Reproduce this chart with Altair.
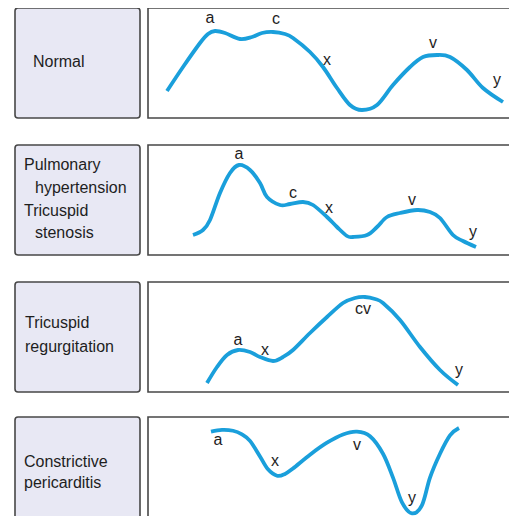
import altair as alt
import pandas as pd

# ---- waveform data (time, pressure in arbitrary units) ----
normal_t = [19, 35, 52, 60, 67, 77, 92, 104, 114, 125, 137, 145, 162, 175, 189, 202, 214, 229, 245, 262, 275, 289, 302, 319, 335, 355]
normal_p = [27, 51, 75, 84, 87, 85, 79, 81, 85, 86, 84, 80, 66, 51, 30, 13, 8, 13, 33, 51, 61, 63, 61, 48, 30, 16]
normal_lab = ["a", "c", "x", "v", "y"]
normal_lab_t = [62, 128, 179, 285, 349]
normal_lab_p = [100, 99, 58, 75, 38]

pht_t = [45, 55, 62, 72, 82, 91, 102, 112, 119, 132, 142, 155, 165, 179, 189, 199, 205, 219, 229, 239, 252, 269, 282, 292, 305, 315, 328]
pht_p = [20, 25, 35, 62, 82, 90, 85, 72, 58, 50, 51, 53, 50, 38, 28, 19, 18, 20, 28, 38, 42, 45, 43, 37, 20, 14, 8]
pht_lab = ["a", "c", "x", "v", "y"]
pht_lab_t = [91, 145, 181, 264, 325]
pht_lab_p = [101, 62, 47, 55, 23]

tr_t = [59, 69, 79, 90, 102, 112, 125, 135, 145, 162, 179, 195, 207, 217, 227, 235, 252, 272, 292, 310]
tr_p = [9, 25, 37, 42, 40, 35, 31, 35, 42, 59, 75, 89, 94, 95, 93, 89, 72, 45, 22, 7]
tr_lab = ["a", "x", "cv", "y"]
tr_lab_t = [90, 117, 215, 311]
tr_lab_p = [52, 42, 83, 22]

cp_t = [63, 74, 85, 94, 102, 112, 120, 129, 137, 145, 162, 179, 195, 209, 222, 235, 245, 254, 264, 274, 282, 292, 302, 311]
cp_p = [94, 96, 95, 91, 84, 67, 53, 46, 48, 54, 69, 82, 91, 94, 89, 70, 44, 17, 5, 14, 44, 70, 90, 98]
cp_lab = ["a", "x", "v", "y"]
cp_lab_t = [70, 127, 209, 264]
cp_lab_p = [85, 62, 80, 22]

BLUE = "#1a9fdb"
BORDER = "#474747"
LABEL_FILL = "#e8e8f4"
TEXT = "#1e1e1e"
FONT = "Liberation Sans"

ROW_TOPS = [0, 137, 274, 409]
ROW_H = 110


def wave(t, p, lt, lp, labels, top, bottom):
    xs = alt.Scale(domain=[0, 370], range=[140, 510], zero=False, nice=False)
    ys = alt.Scale(domain=[0, 110], range=[bottom, top], zero=False, nice=False)
    line = alt.Chart(pd.DataFrame({"t": t, "p": p})).mark_line(
        interpolate="cardinal", color=BLUE, strokeWidth=3.8, strokeCap="butt"
    ).encode(
        x=alt.X("t:Q", scale=xs, axis=None),
        y=alt.Y("p:Q", scale=ys, axis=None),
    )
    txt = alt.Chart(pd.DataFrame({"t": lt, "p": lp, "lab": labels})).mark_text(
        font=FONT, fontSize=16, color=TEXT, align="center", baseline="middle"
    ).encode(
        x=alt.X("t:Q", scale=xs, axis=None),
        y=alt.Y("p:Q", scale=ys, axis=None),
        text="lab:N",
    )
    return alt.layer(line, txt)


def box(top, x1, x2, fill, radius):
    return alt.Chart(alt.Data(values=[{}])).mark_rect(
        fill=fill, stroke=BORDER, strokeWidth=1.6, cornerRadius=radius
    ).encode(
        x=alt.value(x1), x2=alt.value(x2),
        y=alt.value(top), y2=alt.value(top + ROW_H),
    )


def label(lines):
    layers = []
    for txt, x, y in lines:
        layers.append(
            alt.Chart(alt.Data(values=[{}])).mark_text(
                text=txt, font=FONT, fontSize=16, color=TEXT, align="left", baseline="middle"
            ).encode(x=alt.value(x), y=alt.value(y))
        )
    return layers


boxes = []
for top in ROW_TOPS:
    boxes.append(box(top, 7, 132, LABEL_FILL, 3))
    boxes.append(box(top, 140, 530, "white", 0))

texts = []
texts += label([("Normal", 25, 54)])
texts += label([("Pulmonary", 16, 157), ("hypertension", 27, 180),
                ("Tricuspid", 16, 203), ("stenosis", 27, 225)])
texts += label([("Tricuspid", 17, 315), ("regurgitation", 17, 339)])
texts += label([("Constrictive", 16, 454), ("pericarditis", 16, 475)])

waves = alt.layer(
    wave(normal_t, normal_p, normal_lab_t, normal_lab_p, normal_lab, ROW_TOPS[0], ROW_TOPS[0] + ROW_H),
    wave(pht_t, pht_p, pht_lab_t, pht_lab_p, pht_lab, ROW_TOPS[1], ROW_TOPS[1] + ROW_H),
    wave(tr_t, tr_p, tr_lab_t, tr_lab_p, tr_lab, ROW_TOPS[2], ROW_TOPS[2] + ROW_H),
    wave(cp_t, cp_p, cp_lab_t, cp_lab_p, cp_lab, ROW_TOPS[3], ROW_TOPS[3] + 101),
).resolve_scale(x="independent", y="independent")

chart = alt.layer(*boxes, *texts, waves).resolve_scale(
    x="independent", y="independent"
).properties(
    width=501, height=508, padding=0, autosize=alt.AutoSizeParams(type="none")
).configure_view(stroke=None)

chart.save("out.html", embed_options={"renderer": "svg", "actions": False})
